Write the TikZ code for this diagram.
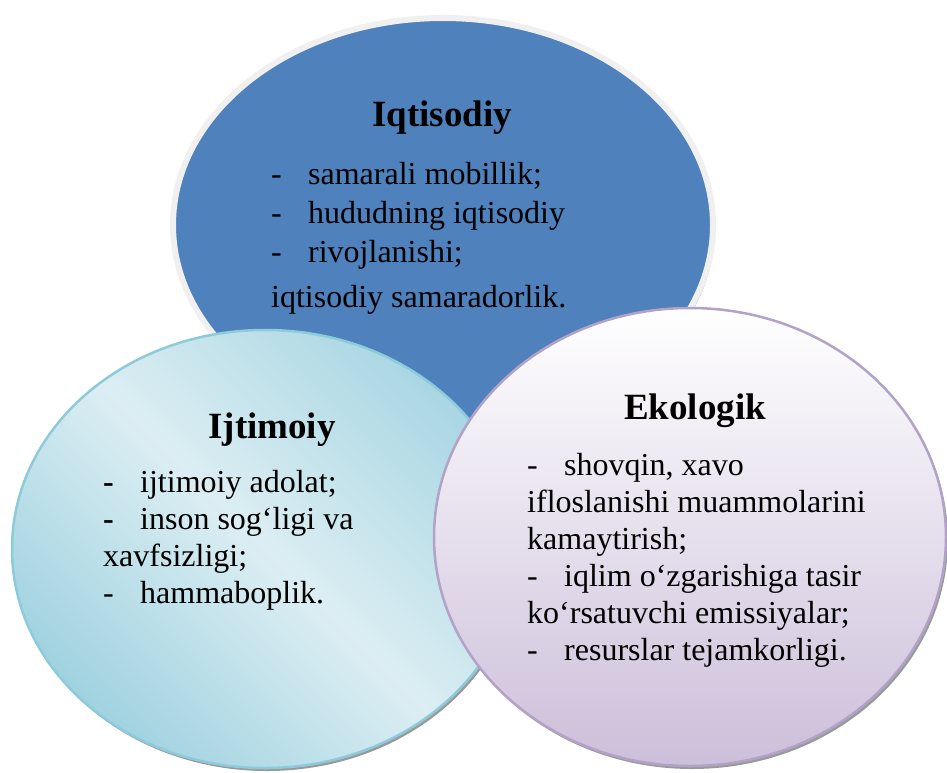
\documentclass[tikz,border=0pt]{standalone}
\usepackage{fontspec}
\setmainfont{Liberation Serif}
\usetikzlibrary{shapes.geometric,shadows}
\definecolor{econblue}{HTML}{4F81BD}
\definecolor{ringgray}{HTML}{F0F0F0}
\definecolor{socline}{HTML}{8DCBDB}
\definecolor{socdark}{HTML}{A0D2E0}
\definecolor{soclight}{HTML}{DCEEF3}
\definecolor{ecoline}{HTML}{B3A2C7}
\definecolor{ecobot}{HTML}{CCBFDA}
\newcommand{\dsh}[1][-]{\makebox[37pt][l]{#1}}

\begin{document}
\begin{tikzpicture}[x=1pt, y=-1pt]
        \tikzstyle{blob} = [ellipse, inner sep=0pt, outer sep=0pt, drop shadow={shadow xshift=2pt, shadow yshift=-3pt, fill=black!40, opacity=1}]
        \tikzstyle{head} = [anchor=base, font=\fontsize{37}{44}\selectfont\bfseries]
        \tikzstyle{list} = [anchor=north west, inner sep=0pt, align=left]
        \useasboundingbox (0,0) rectangle (947,773);
        % the three circles
        \node [blob, fill=econblue, draw=ringgray, line width=6pt, minimum width=540pt, minimum height=414pt] (econ) at (443,225) {};
        \node [blob, top color=socdark!85!soclight, bottom color=socdark, middle color=soclight, shading angle=-45, draw=socline, line width=2.5pt, minimum width=506pt, minimum height=438pt] (soc) at (265,549) {};
        \node [blob, top color=white, bottom color=ecobot, draw=ecoline, line width=2.5pt, minimum width=512pt, minimum height=458pt] (env) at (690,537) {};
        % texts
        \node [head] (econ-t) at (442,127) {Iqtisodiy};
        \node [list, font=\fontsize{32}{39}\selectfont] (econ-l) at (271,162) {\dsh samarali mobillik;\\ \dsh hududning iqtisodiy\\ \dsh rivojlanishi;\\[6pt] iqtisodiy samaradorlik.};
        \node [head] (soc-t) at (272,438) {Ijtimoiy};
        \node [list, font=\fontsize{32}{37}\selectfont] (soc-l) at (103,470) {\dsh[\textbf{-}]ijtimoiy adolat;\\ \dsh[\textbf{-}]inson sog‘ligi va\\ xavfsizligi;\\ \dsh hammaboplik.};
        \node [head] (env-t) at (695,419) {Ekologik};
        \node [list, font=\fontsize{32}{37}\selectfont] (env-l) at (527,453) {\dsh shovqin, xavo\\ ifloslanishi muammolarini\\ kamaytirish;\\ \dsh iqlim o‘zgarishiga tasir\\ ko‘rsatuvchi emissiyalar;\\ \dsh resurslar tejamkorligi.};
\end{tikzpicture}
\end{document}
